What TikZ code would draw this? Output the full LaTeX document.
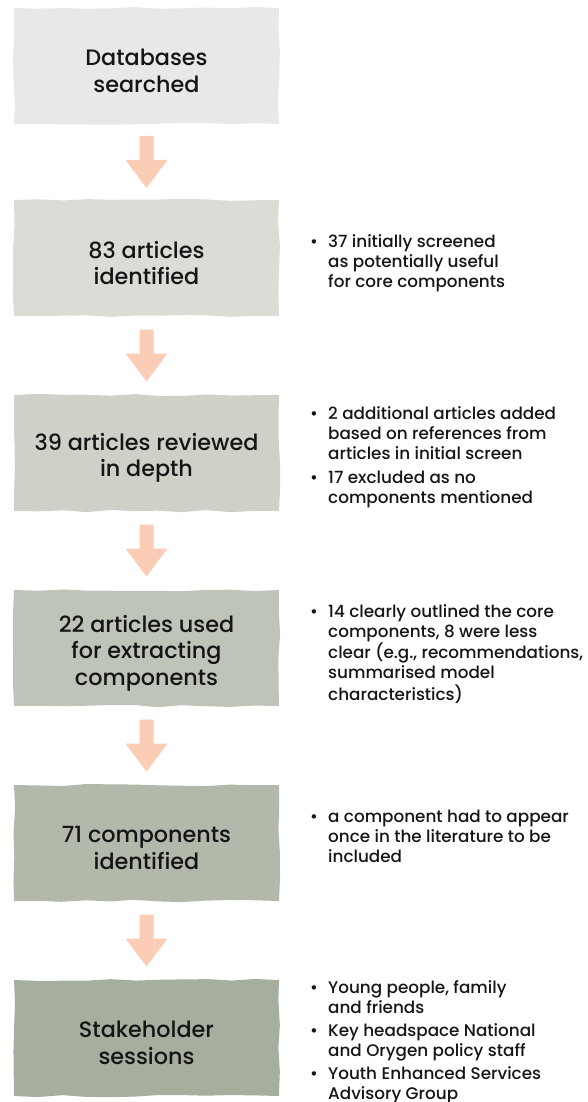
\documentclass[tikz,border=0pt]{standalone}
\usepackage{fontspec}
\setmainfont{Poppins}[UprightFont=* Medium]
\usetikzlibrary{calc,decorations.pathmorphing}
\definecolor{cA}{HTML}{E8E8E6}
\definecolor{cB}{HTML}{DBDCD6}
\definecolor{cC}{HTML}{CDD1C7}
\definecolor{cD}{HTML}{BFC4B8}
\definecolor{cE}{HTML}{B2B9AA}
\definecolor{cF}{HTML}{A6AF9E}
\definecolor{peach}{HTML}{FBCDB6}
\definecolor{ink}{HTML}{151515}
\tikzset{
  stage/.style={decorate, decoration={random steps, segment length=24pt, amplitude=1.2pt},
    minimum width=265pt, minimum height=116pt, inner sep=0pt},
  title/.style={align=center, inner sep=0pt, yshift=-5pt,
    font=\fontsize{22.3}{26.5}\selectfont, text=ink},
  note/.style={anchor=north west, inner sep=0pt, font=\fontsize{16.8}{20}\selectfont, text=ink},
  flow/.style={fill=peach},
}
\newcommand\flowarrow[2]{%
  \coordinate (m#1#2) at ($(#1.south)!0.5!(#2.north)$);
  \fill[flow] ($(m#1#2)+(-7,-26)$) -- ($(m#1#2)+(7,-26)$) -- ($(m#1#2)+(7,-2)$)
    -- ($(m#1#2)+(21,-2)$) -- ($(m#1#2)+(0,26)$) -- ($(m#1#2)+(-21,-2)$)
    -- ($(m#1#2)+(-7,-2)$) -- cycle;}
\newcommand\bul{\hspace{1pt}•}
\begin{document}
\begin{tikzpicture}[x=1pt,y=-1pt]
\pgfmathsetseed{11}
\useasboundingbox (0,0) rectangle (587,1102);
\node[stage, fill=cA, label={[title]center:Databases\\searched}] (b1) at (146.5,66) {};
\node[stage, fill=cB, label={[title]center:83 articles\\identified}] (b2) at (146.5,258) {};
\node[stage, fill=cC, label={[title]center:39 articles reviewed\\in depth}] (b3) at (146.5,453) {};
\node[stage, fill=cD, label={[title]center:22 articles used\\for extracting\\components}] (b4) at (146.5,648) {};
\node[stage, fill=cE, label={[title]center:71 components\\identified}] (b5) at (146.5,843) {};
\node[stage, fill=cF, label={[title]center:Stakeholder\\sessions}] (b6) at (146.5,1038) {};
\flowarrow{b1}{b2}
\flowarrow{b2}{b3}
\flowarrow{b3}{b4}
\flowarrow{b4}{b5}
\flowarrow{b5}{b6}
\node[note] (n2) at (309,233) {\begin{tabular}{@{}p{19pt}@{}l@{}}
\bul & 37 initially screened\\
 & as potentially useful\\
 & for core components
\end{tabular}};
\node[note] (n3) at (309,405) {\begin{tabular}{@{}p{19pt}@{}l@{}}
\bul & 2 additional articles added\\
 & based on references from\\
 & articles in initial screen\\[4pt]
\bul & 17 excluded as no\\
 & components mentioned
\end{tabular}};
\node[note] (n4) at (309,603) {\begin{tabular}{@{}p{19pt}@{}l@{}}
\bul & 14 clearly outlined the core\\
 & components, 8 were less\\
 & clear (e.g., recommendations,\\
 & summarised model\\
 & characteristics)
\end{tabular}};
\node[note] (n5) at (309,808) {\begin{tabular}{@{}p{19pt}@{}l@{}}
\bul & a component had to appear\\
 & once in the literature to be\\
 & included
\end{tabular}};
\node[note] (n6) at (309,979) {\begin{tabular}{@{}p{19pt}@{}l@{}}
\bul & Young people, family\\
 & and friends\\[3pt]
\bul & Key headspace National\\
 & and Orygen policy staff\\[3pt]
\bul & Youth Enhanced Services\\
 & Advisory Group
\end{tabular}};
\end{tikzpicture}
\end{document}
